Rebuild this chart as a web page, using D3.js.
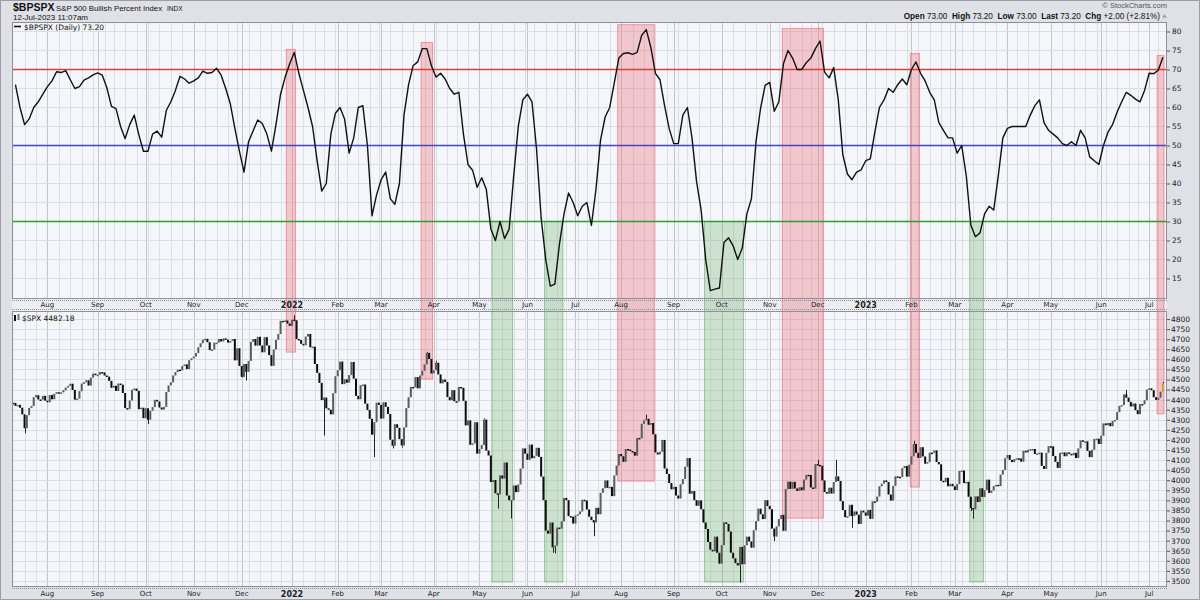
<!doctype html>
<html>
<head>
<meta charset="utf-8">
<title>$BPSPX vs $SPX</title>
<script src="https://cdnjs.cloudflare.com/ajax/libs/d3/7.8.5/d3.min.js"></script>
<style>
html, body { margin: 0; padding: 0; background: #dfe1e7; }
svg { display: block; font-family: "DejaVu Sans", Verdana, sans-serif; }
</style>
</head>
<body>
<script>
// trading calendar shown on the x axis
var startDate = "2021-07-12", endDate = "2023-07-12";
var holidays = ["2021-09-06", "2021-11-25", "2021-12-24",
  "2022-01-17", "2022-02-21", "2022-04-15", "2022-05-30", "2022-06-20", "2022-07-04",
  "2022-09-05", "2022-11-24", "2022-12-26",
  "2023-01-02", "2023-01-16", "2023-02-20", "2023-04-07", "2023-05-29", "2023-06-19", "2023-07-04"];
var monthNames = ["Jan", "Feb", "Mar", "Apr", "May", "Jun", "Jul", "Aug", "Sep", "Oct", "Nov", "Dec"];

// $BPSPX, read every 2nd session (sessions 1, 3, 5, ...)
var bpspx = [
  66, 60, 55.5, 57, 60, 61.5, 63.5, 65.5, 67, 69.4,
  69.2, 69.7, 67.3, 65, 65.5, 67.2, 67.8, 68.6, 69.1, 68.5,
  65.2, 60.3, 59.7, 55, 51.8, 55.5, 58, 52.8, 48.5, 48.5,
  53, 53.8, 52.2, 59.2, 61.5, 64.5, 68.2, 67.5, 66.4, 67,
  67.8, 69.6, 69, 69.2, 70.3, 68.5, 65, 61, 54.5, 48.5,
  43, 51, 53.9, 56.7, 55.8, 53, 48.5, 55.5, 63.5, 68,
  71.5, 74.5, 69, 64.5, 60, 55, 46, 38, 40, 53,
  58.5, 60, 57, 48, 52, 60, 60.5, 50, 31.5, 37,
  41, 43, 36, 34.5, 40, 58, 66, 71, 72, 75.5,
  75.5, 71, 68, 69, 67.5, 65, 63.5, 64, 53, 45,
  43.5, 39, 41.5, 38.5, 28, 25, 30, 25.5, 28, 42,
  55, 62, 63.5, 61.5, 49, 31, 20, 13, 13.5, 24,
  32, 37.5, 35, 31.5, 34, 35, 29, 38.5, 51.5, 57.5,
  60, 66.5, 73, 74.2, 74.4, 74, 74.5, 79, 80.5, 75.8,
  69, 67.3, 60.5, 54.5, 50.5, 50.5, 58, 60, 52, 40.5,
  33, 20, 11.8, 12.2, 12.5, 24.5, 25.7, 23.6, 20, 23,
  32, 36, 51, 59.8, 65.8, 66.6, 59, 61.5, 71.5, 75,
  73, 70, 70, 71.8, 73, 75.5, 77.5, 69.3, 67.8, 70.5,
  62, 47.5, 42.5, 41, 43, 43.6, 46, 46.5, 53.5, 60,
  62, 65, 64, 66, 67.5, 66, 70, 72, 69, 67,
  64, 62, 56, 54, 52, 52, 48, 50, 42, 29,
  26, 27, 32, 34, 33, 42, 52, 54.5, 55, 55,
  55, 55, 58, 60.5, 62, 56, 54, 53, 52, 50.5,
  50, 51, 50, 54, 52, 47, 46, 45, 50, 53.5,
  55.5, 58.8, 61.5, 64, 63.2, 62.2, 61.5, 64.5, 69, 68.9,
  69.8, 73.2
];

// $SPX daily closes, one row per month
var spxClose = [
  4384, 4369, 4374, 4360, 4327, 4258, 4323, 4359, 4368, 4412, 4422, 4401, 4400, 4419, 4395,
  4387, 4423, 4402, 4429, 4437, 4432, 4436, 4447, 4460, 4468, 4479, 4448, 4400, 4405, 4442, 4480, 4486, 4496, 4470, 4509, 4529, 4523,
  4524, 4537, 4535, 4520, 4514, 4493, 4459, 4469, 4443, 4480, 4474, 4433, 4358, 4354, 4396, 4449, 4455, 4443, 4353, 4360, 4308,
  4357, 4300, 4345, 4363, 4399, 4391, 4361, 4351, 4364, 4438, 4471, 4486, 4520, 4537, 4549, 4545, 4567, 4575, 4552, 4596, 4605,
  4614, 4631, 4660, 4680, 4697, 4702, 4685, 4646, 4649, 4683, 4683, 4701, 4689, 4704, 4698, 4683, 4691, 4701, 4595, 4655, 4567,
  4513, 4577, 4538, 4592, 4687, 4701, 4668, 4712, 4669, 4635, 4710, 4669, 4621, 4568, 4649, 4697, 4726, 4791, 4786, 4793, 4778, 4766,
  4797, 4794, 4701, 4696, 4677, 4670, 4713, 4726, 4660, 4663, 4577, 4533, 4483, 4398, 4410, 4357, 4350, 4327, 4432, 4516,
  4546, 4589, 4477, 4501, 4484, 4522, 4587, 4504, 4419, 4402, 4472, 4475, 4380, 4349, 4305, 4226, 4288, 4385, 4374,
  4306, 4387, 4364, 4329, 4201, 4171, 4278, 4260, 4204, 4173, 4262, 4358, 4412, 4463, 4461, 4512, 4456, 4520, 4543, 4575, 4632, 4602, 4530,
  4546, 4583, 4525, 4481, 4500, 4488, 4413, 4397, 4447, 4392, 4391, 4463, 4459, 4394, 4272, 4297, 4176, 4183, 4288, 4132,
  4155, 4175, 4301, 4147, 4123, 3991, 4001, 3935, 3930, 4024, 4008, 4088, 3924, 3901, 3901, 3974, 3941, 3979, 4058, 4158, 4132,
  4101, 4177, 4109, 4121, 4161, 4116, 4018, 3901, 3750, 3735, 3790, 3667, 3675, 3765, 3760, 3796, 3912, 3901, 3822, 3819, 3785,
  3825, 3831, 3845, 3903, 3899, 3855, 3819, 3802, 3790, 3863, 3831, 3937, 3960, 3999, 3962, 3967, 3921, 4024, 4073, 4130,
  4119, 4091, 4155, 4152, 4145, 4140, 4122, 4210, 4208, 4280, 4297, 4305, 4275, 4284, 4228, 4138, 4128, 4141, 4200, 4058, 4031, 3986, 3955,
  3967, 3924, 3909, 3980, 4006, 4067, 4110, 3933, 3946, 3901, 3873, 3900, 3856, 3790, 3758, 3693, 3655, 3647, 3720, 3640, 3586,
  3678, 3791, 3783, 3745, 3640, 3612, 3589, 3577, 3669, 3583, 3677, 3720, 3696, 3665, 3752, 3797, 3859, 3831, 3807, 3901, 3872,
  3856, 3760, 3720, 3771, 3807, 3828, 3749, 3956, 3993, 3957, 3992, 3959, 3947, 3965, 3950, 4003, 4027, 4026, 3964, 3958, 4080,
  4076, 4072, 3999, 3941, 3933, 3963, 3934, 3991, 4019, 3996, 3896, 3852, 3817, 3821, 3878, 3822, 3845, 3829, 3783, 3849, 3840,
  3824, 3853, 3808, 3895, 3893, 3919, 3970, 3983, 3999, 3991, 3929, 3899, 3972, 4019, 4017, 4016, 4060, 4071, 4018, 4077,
  4119, 4180, 4136, 4111, 4164, 4118, 4082, 4090, 4137, 4136, 4148, 4090, 4079, 3997, 3991, 4012, 3970, 3982, 3970,
  3951, 3981, 4046, 4048, 3986, 3992, 3918, 3862, 3855, 3920, 3892, 3960, 3917, 3951, 4003, 3937, 3949, 3971, 3977, 3971, 4028, 4051, 4109,
  4125, 4101, 4090, 4105, 4109, 4108, 4092, 4146, 4138, 4151, 4154, 4155, 4130, 4133, 4137, 4071, 4056, 4136, 4169,
  4168, 4120, 4091, 4061, 4136, 4138, 4119, 4138, 4131, 4124, 4136, 4110, 4158, 4198, 4192, 4193, 4146, 4115, 4151, 4205, 4206, 4180,
  4221, 4282, 4273, 4284, 4268, 4294, 4299, 4338, 4369, 4373, 4426, 4410, 4389, 4366, 4381, 4348, 4328, 4378, 4377, 4397, 4450,
  4456, 4447, 4412, 4399, 4410, 4439, 4482
];

// the long intraday wicks that stand out on the $SPX panel
var lowDates = ["2021-07-19", "2021-10-04", "2021-12-01", "2021-12-03", "2022-01-24", "2022-02-24", "2022-03-08", "2022-03-14",
  "2022-04-26", "2022-05-12", "2022-05-20", "2022-06-16", "2022-06-17", "2022-07-14", "2022-09-30", "2022-10-13",
  "2022-11-03", "2022-12-22", "2023-03-10", "2023-03-13"];
var lowVals = [4233, 4279, 4510, 4495, 4222, 4115, 4158, 4162,
  4175, 3859, 3810, 3640, 3637, 3722, 3584, 3492,
  3698, 3764, 3847, 3809];
var highDates = ["2022-01-04", "2022-03-29", "2022-04-04", "2022-05-04", "2022-06-02", "2022-08-16",
  "2022-12-01", "2022-12-13", "2023-02-02", "2023-06-16", "2023-07-12"];
var highVals = [4819, 4637, 4593, 4307, 4177, 4325,
  4101, 4101, 4195, 4448, 4488];

// highlighted periods: overbought (>70) red, oversold (<30) green
var hotFrom = ["2021-12-30", "2022-03-25", "2022-07-29", "2022-11-09", "2023-02-01", "2023-07-10"];
var hotTo   = ["2022-01-04", "2022-03-31", "2022-08-19", "2022-12-05", "2023-02-06", "2023-07-12"];
var hotTop  = [75.3, 77.1, 81.8, 80.8, 74.2, 73.7];      // $BPSPX
var hotLow  = [4636, 4502, 3996, 3812, 3966, 4329];      // $SPX
var coldFrom = ["2022-05-10", "2022-06-13", "2022-09-22", "2023-03-10"];
var coldTo   = ["2022-05-20", "2022-06-23", "2022-10-14", "2023-03-17"];
var coldTop  = [30, 30, 30, 30];
var coldLow  = [3495, 3495, 3495, 3495];

var levels = [70, 50, 30];
var levelColors = ["#d9403f", "#4646c4", "#2f9e2f"];
var bpTicks = d3.range(15, 81, 5);
var spxTicks = d3.range(3500, 4801, 50);

var W = 1200, H = 600;
var L = 12, R = 1167, topY0 = 22, topY1 = 299, botY0 = 311, botY1 = 587;
var sans = "Liberation Sans, Arial, sans-serif";

var parse = d3.utcParse("%Y-%m-%d"), fmt = d3.utcFormat("%Y-%m-%d");
var days = d3.utcDays(parse(startDate), d3.utcDay.offset(parse(endDate), 1))
  .filter(function (d) { var w = d.getUTCDay(); return w > 0 && w < 6 && holidays.indexOf(fmt(d)) < 0; });
var dayIndex = {};
days.forEach(function (d, i) { dayIndex[fmt(d)] = i; });

var x = d3.scaleLinear().domain([0, days.length]).range([L, 1164]);
var cx = function (i) { return x(i + 0.5); };
var yTop = d3.scaleLinear().domain([9.6, 82.5]).range([topY1, topY0]);
var yBot = d3.scaleLinear().domain([3470, 4840]).range([botY1, botY0]);

var svg = d3.select("body").append("svg").attr("width", W).attr("height", H);

svg.append("rect").attr("x", 0.5).attr("y", 0.5).attr("width", W - 1).attr("height", H - 1)
  .attr("fill", "#dfe1e7").attr("stroke", "#9a9ea8");

// panels
[[topY0, topY1], [botY0, botY1]].forEach(function (p) {
  svg.append("rect").attr("x", L).attr("y", p[0]).attr("width", R - L).attr("height", p[1] - p[0])
    .attr("fill", "#f5f6fa");
});
// axis strip between panels
svg.append("rect").attr("x", L).attr("y", topY1).attr("width", R - L).attr("height", botY0 - topY1)
  .attr("fill", "#eceef3");

// week / month positions
var weekStarts = [], monthStarts = [];
days.forEach(function (d, i) {
  if (i === 0) return;
  var p = days[i - 1];
  if (d.getUTCMonth() !== p.getUTCMonth()) monthStarts.push(i);
  if (d.getUTCDay() <= p.getUTCDay() || (d - p) > 3 * 864e5) weekStarts.push(i);
});

var grid = svg.append("g");
[[topY0, topY1], [botY0, botY1]].forEach(function (p) {
  grid.selectAll(null).data(weekStarts).enter().append("line")
    .attr("x1", function (i) { return Math.round(cx(i)) + 0.5; })
    .attr("x2", function (i) { return Math.round(cx(i)) + 0.5; })
    .attr("y1", p[0]).attr("y2", p[1])
    .style("stroke", "#dcdee6");
  grid.selectAll(null).data(monthStarts).enter().append("line")
    .attr("x1", function (i) { return Math.round(cx(i)) + 0.5; })
    .attr("x2", function (i) { return Math.round(cx(i)) + 0.5; })
    .attr("y1", p[0]).attr("y2", p[1])
    .style("stroke", "#c2c5cd");
});
grid.selectAll(null).data(bpTicks).enter().append("line")
  .attr("x1", L).attr("x2", R)
  .attr("y1", function (v) { return Math.round(yTop(v)) + 0.5; })
  .attr("y2", function (v) { return Math.round(yTop(v)) + 0.5; })
  .style("stroke", "#dcdee6");
grid.selectAll(null).data(spxTicks).enter().append("line")
  .attr("x1", L).attr("x2", R)
  .attr("y1", function (v) { return Math.round(yBot(v)) + 0.5; })
  .attr("y2", function (v) { return Math.round(yBot(v)) + 0.5; })
  .style("stroke", "#dcdee6");

// highlight bands, spanning both panels
function bands(from, to, top, low, fill, stroke) {
  svg.append("g").selectAll("rect").data(from).enter().append("rect")
    .attr("x", function (d) { return x(dayIndex[d]); })
    .attr("width", function (d, k) { return x(dayIndex[to[k]] + 1) - x(dayIndex[d]); })
    .attr("y", function (d, k) { return yTop(top[k]); })
    .attr("height", function (d, k) { return yBot(low[k]) - yTop(top[k]); })
    .style("fill", fill).style("stroke", stroke).style("stroke-width", 1);
}
bands(hotFrom, hotTo, hotTop, hotLow, "rgba(238,110,120,0.35)", "rgba(235,90,100,0.55)");
bands(coldFrom, coldTo, coldTop, coldLow, "rgba(110,180,110,0.30)", "rgba(90,170,90,0.55)");

// reference levels
svg.append("g").selectAll("line").data(levels).enter().append("line")
  .attr("x1", L).attr("x2", R)
  .attr("y1", function (v) { return Math.round(yTop(v)) + 0.5; })
  .attr("y2", function (v) { return Math.round(yTop(v)) + 0.5; })
  .style("stroke", function (v, k) { return levelColors[k]; }).style("stroke-width", 1.3);

// $BPSPX line
var line = d3.line()
  .x(function (v, k) { return cx(2 * k + 1); })
  .y(function (v) { return yTop(v); });
svg.append("path").datum(bpspx).attr("d", line)
  .style("fill", "none").style("stroke", "#111").style("stroke-width", 1.4)
  .style("stroke-linejoin", "round");

// $SPX wicks
function wicks(dates, vals) {
  svg.append("g").selectAll("line").data(dates).enter().append("line")
    .attr("x1", function (d) { return Math.round(cx(dayIndex[d])) + 0.5; })
    .attr("x2", function (d) { return Math.round(cx(dayIndex[d])) + 0.5; })
    .attr("y1", function (d, k) { return yBot(vals[k]); })
    .attr("y2", function (d) { return yBot(spxClose[dayIndex[d]]); })
    .style("stroke", "#222").style("stroke-width", 1);
}
wicks(lowDates, lowVals);
wicks(highDates, highVals);

// $SPX bars, each spanning the previous close to the close
var bw = 2;
svg.append("g").selectAll("rect").data(spxClose).enter().append("rect")
  .attr("x", function (v, i) { return cx(i) - bw / 2; })
  .attr("width", bw)
  .attr("y", function (v, i) { var p = i ? spxClose[i - 1] : v; return yBot(Math.max(p, v)); })
  .attr("height", function (v, i) { var p = i ? spxClose[i - 1] : v; return Math.max(1.5, Math.abs(yBot(p) - yBot(v))); })
  .style("fill", function (v, i) {
    if (i === spxClose.length - 1) return "#c9a23a";
    return (i && v >= spxClose[i - 1]) ? "#5c5c5c" : "#0d0d0d";
  });

// panel frames
[[topY0, topY1], [botY0, botY1]].forEach(function (p) {
  svg.append("rect").attr("x", L + 0.5).attr("y", p[0] + 0.5).attr("width", R - L - 1).attr("height", p[1] - p[0] - 1)
    .style("fill", "none").style("stroke", "#8d9099");
});
[topY1 + 1.5, botY0 - 1.5, botY1 + 1.5].forEach(function (yy) {
  svg.append("line").attr("x1", L).attr("x2", R).attr("y1", yy).attr("y2", yy)
    .style("stroke", "#8d9099").style("stroke-dasharray", "1,1");
});

// right axes
var axTop = d3.axisRight(yTop).tickValues(bpTicks).tickFormat(d3.format("d")).tickSize(3).tickPadding(2);
var axBot = d3.axisRight(yBot).tickValues(spxTicks).tickFormat(d3.format("d")).tickSize(3).tickPadding(1);
[axTop, axBot].forEach(function (a) {
  var g = svg.append("g").attr("transform", "translate(" + R + ",0)").call(a);
  g.select(".domain").remove();
  g.selectAll("line").style("stroke", "#555");
  g.selectAll("text").attr("font-size", 7.5).attr("fill", "#222").attr("font-family", "DejaVu Sans, sans-serif");
});

// month labels
function monthLabel(i) {
  var d = days[i];
  return d.getUTCMonth() === 0 ? String(d.getUTCFullYear()) : monthNames[d.getUTCMonth()];
}
[305.5, 594].forEach(function (yy) {
  svg.append("g").selectAll("text").data(monthStarts).enter().append("text")
    .attr("x", function (i) { return cx(i); }).attr("y", yy)
    .attr("text-anchor", "middle").attr("dominant-baseline", "middle")
    .attr("font-size", function (i) { return days[i].getUTCMonth() === 0 ? 8 : 7; })
    .attr("font-weight", function (i) { return days[i].getUTCMonth() === 0 ? "bold" : "normal"; })
    .attr("fill", "#222")
    .text(monthLabel);
});

// header
var hd = svg.append("g").attr("fill", "#111").attr("font-family", sans);
hd.append("text").attr("x", 13).attr("y", 11).attr("font-size", 10.5).attr("font-weight", "bold").text("$BPSPX");
hd.append("text").attr("x", 56).attr("y", 10.5).attr("font-size", 7.8).text("S&P 500 Bullish Percent Index");
hd.append("text").attr("x", 167).attr("y", 10.5).attr("font-size", 6.5).text("INDX");
hd.append("text").attr("x", 13).attr("y", 19.5).attr("font-size", 8).text("12-Jul-2023 11:07am");
hd.append("text").attr("x", 1167).attr("y", 8).attr("text-anchor", "end").attr("font-size", 7.5).attr("fill", "#555").text("\u00a9 StockCharts.com");

var ohlc = [["Open", "73.00"], ["High", "73.20"], ["Low", "73.00"], ["Last", "73.20"], ["Chg", "+2.00 (+2.81%)"]];
var q = hd.append("text").attr("x", 1160).attr("y", 19).attr("text-anchor", "end").attr("font-size", 8.2)
  .attr("xml:space", "preserve");
ohlc.forEach(function (o, k) {
  q.append("tspan").attr("font-weight", "bold").text((k ? "  " : "") + o[0] + " ");
  q.append("tspan").text(o[1]);
});
hd.append("path").attr("d", "M1162,17.5 l2.5,-3 l2.5,3 z").style("fill", "#999");

// legends
svg.append("line").attr("x1", 14).attr("x2", 21).attr("y1", 26.5).attr("y2", 26.5).style("stroke", "#111").style("stroke-width", 1.6);
svg.append("text").attr("x", 24).attr("y", 29.5).attr("font-size", 7.5).attr("fill", "#111").text("$BPSPX (Daily) 73.20");
svg.append("rect").attr("x", 14).attr("y", 315).attr("width", 2).attr("height", 6).style("fill", "#111");
svg.append("rect").attr("x", 17.5).attr("y", 314).attr("width", 2).attr("height", 6).style("fill", "#777");
svg.append("text").attr("x", 22).attr("y", 320.5).attr("font-size", 7.5).attr("fill", "#111").text("$SPX 4482.18");
</script>
</body>
</html>
